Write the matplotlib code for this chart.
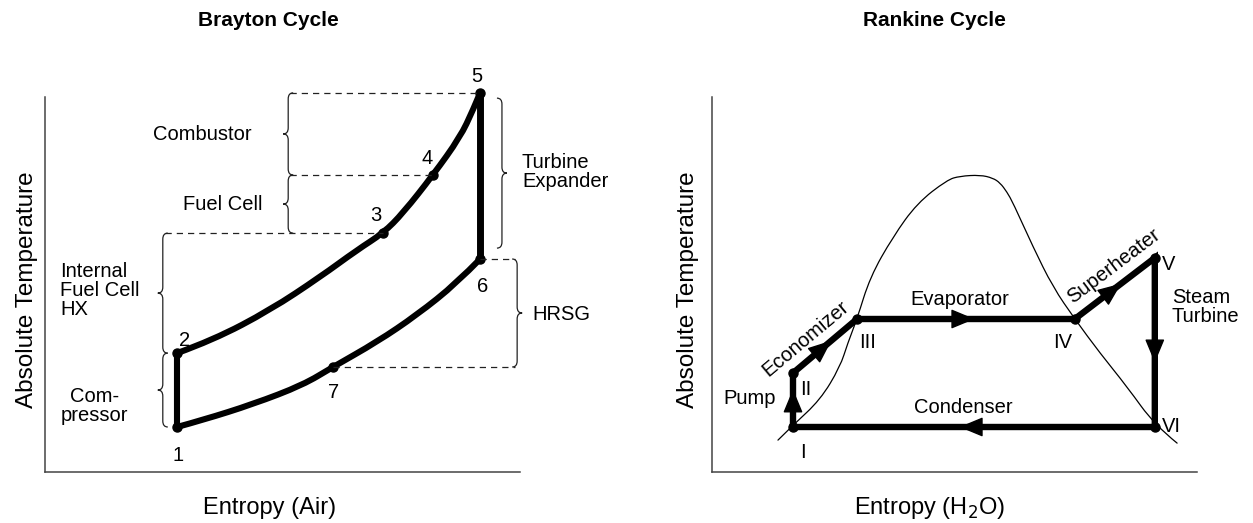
import matplotlib
matplotlib.use('Agg')
import matplotlib.pyplot as plt
from matplotlib.path import Path
from matplotlib.patches import PathPatch
import numpy as np

plt.rcParams['font.family'] = ['Liberation Sans', 'DejaVu Sans']

# Brayton cycle state points (entropy, temperature), arbitrary units 0-10
brayton_s = {'1': 2.78, '2': 2.78, '3': 7.12, '4': 8.17, '5': 9.16, '6': 9.16, '7': 6.06}
brayton_T = {'1': 1.20, '2': 3.17, '3': 6.37, '4': 7.92, '5': 10.11, '6': 5.68, '7': 2.80}

# heating curve 2 -> 3 -> 4 -> 5
heat_s = [2.78, 3.54, 4.74, 5.79, 6.57, 7.12, 7.54, 8.17, 8.74, 9.01, 9.16]
heat_T = [3.17, 3.52, 4.32, 5.20, 5.92, 6.37, 6.91, 7.92, 8.93, 9.65, 10.11]
# exhaust curve 1 -> 7 -> 6
exh_s = [2.78, 3.33, 4.38, 5.43, 6.06, 6.99, 7.83, 8.67, 9.16]
exh_T = [1.20, 1.39, 1.81, 2.32, 2.80, 3.47, 4.19, 5.04, 5.68]

# Rankine cycle state points
rankine_s = {'I': 1.67, 'II': 1.67, 'III': 2.99, 'IV': 7.48, 'V': 9.13, 'VI': 9.13}
rankine_T = {'I': 1.20, 'II': 2.64, 'III': 4.08, 'IV': 4.08, 'V': 5.71, 'VI': 1.20}

# saturation dome of water
dome_s = [1.36, 1.67, 2.23, 2.64, 2.80, 2.99, 3.26, 3.73, 4.23, 4.85, 5.11, 5.53,
          5.79, 5.94, 6.08, 6.21, 6.62, 7.03, 7.48, 8.00, 8.56, 9.13, 9.59]
dome_T = [0.85, 1.25, 1.92, 2.80, 3.44, 4.08, 5.20, 6.27, 7.17, 7.79, 7.89, 7.92,
          7.84, 7.71, 7.47, 7.17, 6.00, 4.93, 4.08, 3.17, 2.27, 1.25, 0.77]

W, H = 1253, 523
fig = plt.figure(figsize=(W / 100, H / 100), dpi=100)


def make_axes(x0, x1, ytop, ybot):
    ax = fig.add_axes([x0 / W, (H - ybot) / H, (x1 - x0) / W, (ybot - ytop) / H])
    ax.set_xlim(0, 10)
    ax.set_ylim(0, 10)
    ax.set_xticks([])
    ax.set_yticks([])
    for side in ['top', 'right']:
        ax.spines[side].set_visible(False)
    for side in ['left', 'bottom']:
        ax.spines[side].set_color('#444444')
        ax.spines[side].set_linewidth(1.1)
    ax.patch.set_alpha(0)
    return ax


def smooth_curve(ax, xs, ys, lw):
    # quadratic B-spline through the midpoints of the read points
    pts = list(zip(xs, ys))
    verts = [pts[0]]
    codes = [Path.MOVETO]
    for i in range(1, len(pts) - 1):
        if i < len(pts) - 2:
            end = ((pts[i][0] + pts[i + 1][0]) / 2, (pts[i][1] + pts[i + 1][1]) / 2)
        else:
            end = pts[-1]
        verts += [pts[i], end]
        codes += [Path.CURVE3, Path.CURVE3]
    ax.add_patch(PathPatch(Path(verts, codes), fill=False, lw=lw, color='black',
                           capstyle='round', joinstyle='round', clip_on=False))


def brace(ax, s, t0, t1, side):
    # curly brace along T from t0 to t1, tip pointing to `side` (+1 right, -1 left)
    p0 = ax.transData.transform((0, 0))
    p1 = ax.transData.transform((1, 1))
    ux, uy = 1 / (p1[0] - p0[0]), 1 / (p1[1] - p0[1])
    w = 5 * ux
    r = 6 * uy
    tm = (t0 + t1) / 2
    verts = [(s - side * w, t1), (s, t1), (s, t1 - r),
             (s, tm + r), (s, tm), (s + side * w, tm),
             (s, tm), (s, tm - r),
             (s, t0 + r), (s, t0), (s - side * w, t0)]
    codes = [Path.MOVETO, Path.CURVE3, Path.CURVE3, Path.LINETO, Path.CURVE3, Path.CURVE3,
             Path.CURVE3, Path.CURVE3, Path.LINETO, Path.CURVE3, Path.CURVE3]
    ax.add_patch(PathPatch(Path(verts, codes), fill=False, lw=0.9, color='#222222',
                           clip_on=False))


def dashed(ax, s0, s1, t):
    ax.plot([s0, s1], [t, t], color='#222222', lw=0.9, ls=(0, (5, 4)), clip_on=False)


def arrow_on(ax, a, b, frac):
    s0, t0 = rankine_s[a], rankine_T[a]
    s1, t1 = rankine_s[b], rankine_T[b]
    tip = (s0 + frac * (s1 - s0), t0 + frac * (t1 - t0))
    ax.annotate('', xy=tip, xytext=(s0, t0),
                arrowprops=dict(arrowstyle='-|>,head_length=0.65,head_width=0.27',
                                mutation_scale=23, color='black', lw=1,
                                shrinkA=0, shrinkB=0))


FS = 14.5
AXFS = 17

# ---------------- Brayton ----------------
ax1 = make_axes(45, 520, 97, 472)
lw_b = 4.4
smooth_curve(ax1, heat_s, heat_T, lw_b)
smooth_curve(ax1, exh_s, exh_T, lw_b)
ax1.plot([brayton_s['1'], brayton_s['2']], [brayton_T['1'], brayton_T['2']],
         color='black', lw=lw_b, clip_on=False)
ax1.plot([brayton_s['5'], brayton_s['6']], [brayton_T['5'], brayton_T['6']],
         color='black', lw=5.0, clip_on=False)
ax1.plot(list(brayton_s.values()), list(brayton_T.values()), 'o', color='black',
         ms=6.5, clip_on=False)

dashed(ax1, 5.16, brayton_s['5'], brayton_T['5'])
dashed(ax1, 5.16, brayton_s['4'], brayton_T['4'])
dashed(ax1, 2.53, brayton_s['3'], brayton_T['3'])
dashed(ax1, brayton_s['6'], 9.89, brayton_T['6'])
dashed(ax1, brayton_s['7'], 9.89, brayton_T['7'])

brace(ax1, 5.12, brayton_T['4'], brayton_T['5'], -1)
brace(ax1, 5.12, brayton_T['3'], brayton_T['4'], -1)
brace(ax1, 2.48, brayton_T['2'], brayton_T['3'], -1)
brace(ax1, 2.48, brayton_T['1'], brayton_T['2'], -1)
brace(ax1, 9.62, 5.97, 9.97, 1)
brace(ax1, 9.94, brayton_T['7'], brayton_T['6'], 1)

num_pos = {'1': (2.80, 0.43), '2': (2.93, 3.52), '3': (6.97, 6.85), '4': (8.04, 8.37),
           '5': (9.09, 10.56), '6': (9.22, 4.96), '7': (6.08, 2.11)}
for k, (x, y) in num_pos.items():
    ax1.text(x, y, k, fontsize=FS, ha='center', va='center')

ax1.text(4.36, 8.99, 'Combustor', fontsize=FS, ha='right', va='center')
ax1.text(4.57, 7.12, 'Fuel Cell', fontsize=FS, ha='right', va='center')
ax1.text(0.32, 4.85, 'Internal\nFuel Cell\nHX', fontsize=FS, ha='left', va='center',
         linespacing=1.0)
ax1.text(1.05, 1.76, 'Com-\npressor', fontsize=FS, ha='center', va='center',
         linespacing=1.0, multialignment='center')
ax1.text(10.04, 8.0, 'Turbine\nExpander', fontsize=FS, ha='left', va='center',
         linespacing=1.0)
ax1.text(10.27, 4.19, 'HRSG', fontsize=FS, ha='left', va='center')

# ---------------- Rankine ----------------
ax2 = make_axes(712, 1197, 97, 472)
smooth_curve(ax2, dome_s, dome_T, 0.9)
order = ['I', 'II', 'III', 'IV', 'V', 'VI', 'I']
ax2.plot([rankine_s[k] for k in order], [rankine_T[k] for k in order], color='black',
         lw=4.6, solid_joinstyle='miter', clip_on=False)
ax2.plot(list(rankine_s.values()), list(rankine_T.values()), 'o', color='black',
         ms=6.5, clip_on=False)

arrow_on(ax2, 'I', 'II', 0.70)
arrow_on(ax2, 'II', 'III', 0.60)
arrow_on(ax2, 'III', 'IV', 0.54)
arrow_on(ax2, 'IV', 'V', 0.58)
arrow_on(ax2, 'V', 'VI', 0.62)
arrow_on(ax2, 'VI', 'I', 0.54)

ax2.text(1.88, 0.53, 'I', fontsize=FS, ha='center', va='center')
ax2.text(1.81, 2.19, 'II', fontsize=FS, ha='left', va='center')
ax2.text(3.20, 3.44, 'III', fontsize=FS, ha='center', va='center')
ax2.text(7.22, 3.44, 'IV', fontsize=FS, ha='center', va='center')
ax2.text(9.28, 5.52, 'V', fontsize=FS, ha='left', va='center')
ax2.text(9.28, 1.20, 'VI', fontsize=FS, ha='left', va='center')
ax2.text(1.32, 1.97, 'Pump', fontsize=FS, ha='right', va='center')
ax2.text(1.94, 3.57, 'Economizer', fontsize=FS, ha='center', va='center', rotation=40)
ax2.text(5.11, 4.59, 'Evaporator', fontsize=FS, ha='center', va='center')
ax2.text(5.18, 1.73, 'Condenser', fontsize=FS, ha='center', va='center')
ax2.text(8.29, 5.49, 'Superheater', fontsize=FS, ha='center', va='center', rotation=37)
ax2.text(9.48, 4.40, 'Steam\nTurbine', fontsize=FS, ha='left', va='center',
         linespacing=1.0)

# titles and axis labels
fig.text(268 / W, 1 - 21 / H, 'Brayton Cycle', fontsize=15, fontweight='bold',
         ha='center', va='center')
fig.text(934 / W, 1 - 21 / H, 'Rankine Cycle', fontsize=15, fontweight='bold',
         ha='center', va='center')
fig.text(270 / W, 1 - 508 / H, 'Entropy (Air)', fontsize=AXFS, ha='center', va='center')
fig.text(930 / W, 1 - 508 / H, 'Entropy (H$_2$O)', fontsize=AXFS, ha='center', va='center')
fig.text(27 / W, 1 - 290 / H, 'Absolute Temperature', fontsize=17.5, rotation=90,
         ha='center', va='center')
fig.text(688 / W, 1 - 290 / H, 'Absolute Temperature', fontsize=17.5, rotation=90,
         ha='center', va='center')

fig.savefig('out.png', dpi=100)
